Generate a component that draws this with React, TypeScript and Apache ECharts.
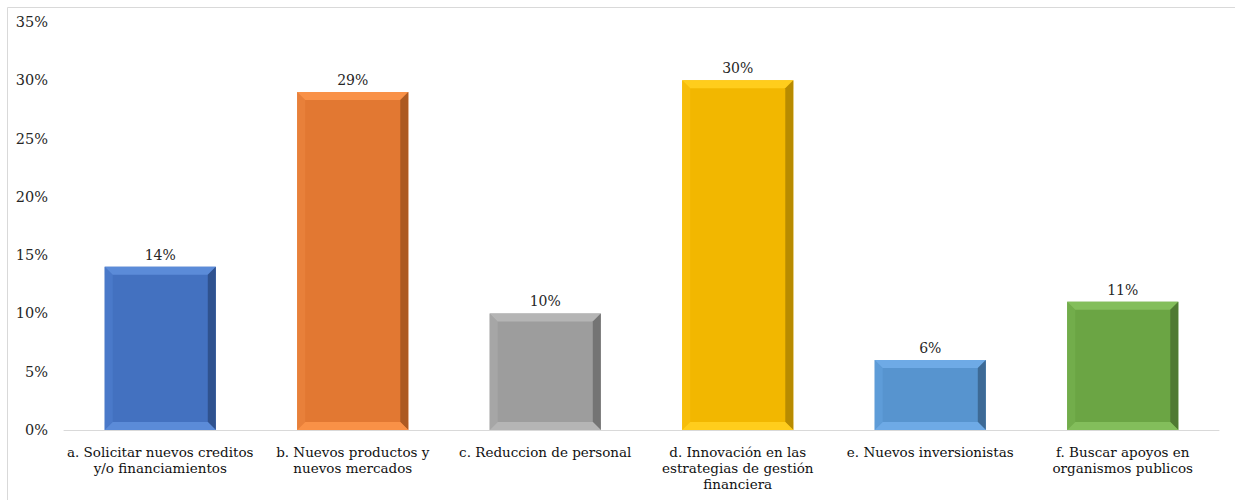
import React, { useEffect, useRef } from "react";
import * as echarts from "echarts";

const categories = [
  "a. Solicitar nuevos creditos\ny/o financiamientos",
  "b. Nuevos productos y\nnuevos mercados",
  "c. Reduccion de personal",
  "d. Innovación en las\nestrategias de gestión\nfinanciera",
  "e. Nuevos inversionistas",
  "f. Buscar apoyos en\norganismos publicos",
];
const values = [14, 29, 10, 30, 6, 11];
const yTicks = { min: 0, max: 35, interval: 5 };

const faceColors = ["#4371c0", "#e27832", "#9d9d9d", "#f2b700", "#5794cf", "#6ba544"];
const topColors = ["#5b8bd8", "#f99147", "#b5b5b5", "#ffcd1c", "#6eaae6", "#83be5b"];
const rightColors = ["#2f528f", "#ad5a22", "#747474", "#b88b00", "#3d6a96", "#4f7a32"];
const leftColors = ["#4a79c9", "#e8803a", "#a6a6a6", "#f7bd0a", "#5e9cd8", "#72ad4b"];

const FONT = "DejaVu Serif, serif";

export default function App() {
  const ref = useRef<HTMLDivElement>(null);
  useEffect(() => {
    document.body.style.margin = "0";
    const chart = echarts.init(ref.current!, null, { renderer: "svg" });
    const bev = 8;
    chart.setOption({
      animation: false,
      backgroundColor: "#ffffff",
      textStyle: { fontFamily: FONT },
      graphic: [
        {
          type: "rect",
          shape: { x: 7.5, y: 7.5, width: 1240, height: 500 },
          style: { fill: "none", stroke: "#d9d9d9", lineWidth: 1 },
          silent: true,
          z: -1,
        },
      ],
      grid: { left: 64, right: 16, top: 22, bottom: 70, containLabel: false },
      xAxis: {
        type: "category",
        data: categories,
        axisLine: { lineStyle: { color: "#d9d9d9", width: 1 } },
        axisTick: { show: false },
        axisLabel: {
          interval: 0,
          margin: 14,
          fontFamily: FONT,
          fontSize: 13.5,
          lineHeight: 16,
          color: "#111111",
          align: "center",
        },
      },
      yAxis: {
        type: "value",
        min: yTicks.min,
        max: yTicks.max,
        interval: yTicks.interval,
        axisLine: { show: false },
        axisTick: { show: false },
        splitLine: { show: false },
        axisLabel: {
          margin: 16,
          fontFamily: FONT,
          fontSize: 14.5,
          color: "#262626",
          formatter: "{value}%",
        },
      },
      series: [
        {
          type: "custom",
          data: values.map((v, i) => [i, v]),
          encode: { x: 0, y: 1 },
          renderItem: (params: any, api: any) => {
            const i = api.value(0);
            const v = api.value(1);
            const top = api.coord([i, v]);
            const base = api.coord([i, 0]);
            const band = api.size([1, 0])[0];
            const w = band * 0.577;
            const x0 = top[0] - w / 2;
            const x1 = top[0] + w / 2;
            const y0 = top[1];
            const y1 = base[1];
            const b = Math.min(bev, (y1 - y0) / 2);
            return {
              type: "group",
              children: [
                { type: "rect", shape: { x: x0, y: y0, width: w, height: y1 - y0 }, style: { fill: faceColors[i] } },
                {
                  type: "polygon",
                  shape: { points: [[x0, y0], [x0 + b, y0 + b], [x0 + b, y1 - b], [x0, y1]] },
                  style: { fill: leftColors[i] },
                },
                {
                  type: "polygon",
                  shape: { points: [[x0, y0], [x1, y0], [x1 - b, y0 + b], [x0 + b, y0 + b]] },
                  style: { fill: topColors[i] },
                },
                {
                  type: "polygon",
                  shape: { points: [[x1, y0], [x1, y1], [x1 - b, y1 - b], [x1 - b, y0 + b]] },
                  style: { fill: rightColors[i] },
                },
                {
                  type: "polygon",
                  shape: { points: [[x0, y1], [x0 + b, y1 - b], [x1 - b, y1 - b], [x1, y1]] },
                  style: { fill: topColors[i] },
                },
                {
                  type: "text",
                  style: {
                    text: v + "%",
                    x: top[0],
                    y: y0 - 5,
                    align: "center",
                    verticalAlign: "bottom",
                    fontFamily: FONT,
                    fontSize: 14,
                    fill: "#262626",
                  },
                },
              ],
            };
          },
        },
      ],
    });
    return () => chart.dispose();
  }, []);
  return <div ref={ref} style={{ width: 1235, height: 500 }} />;
}
